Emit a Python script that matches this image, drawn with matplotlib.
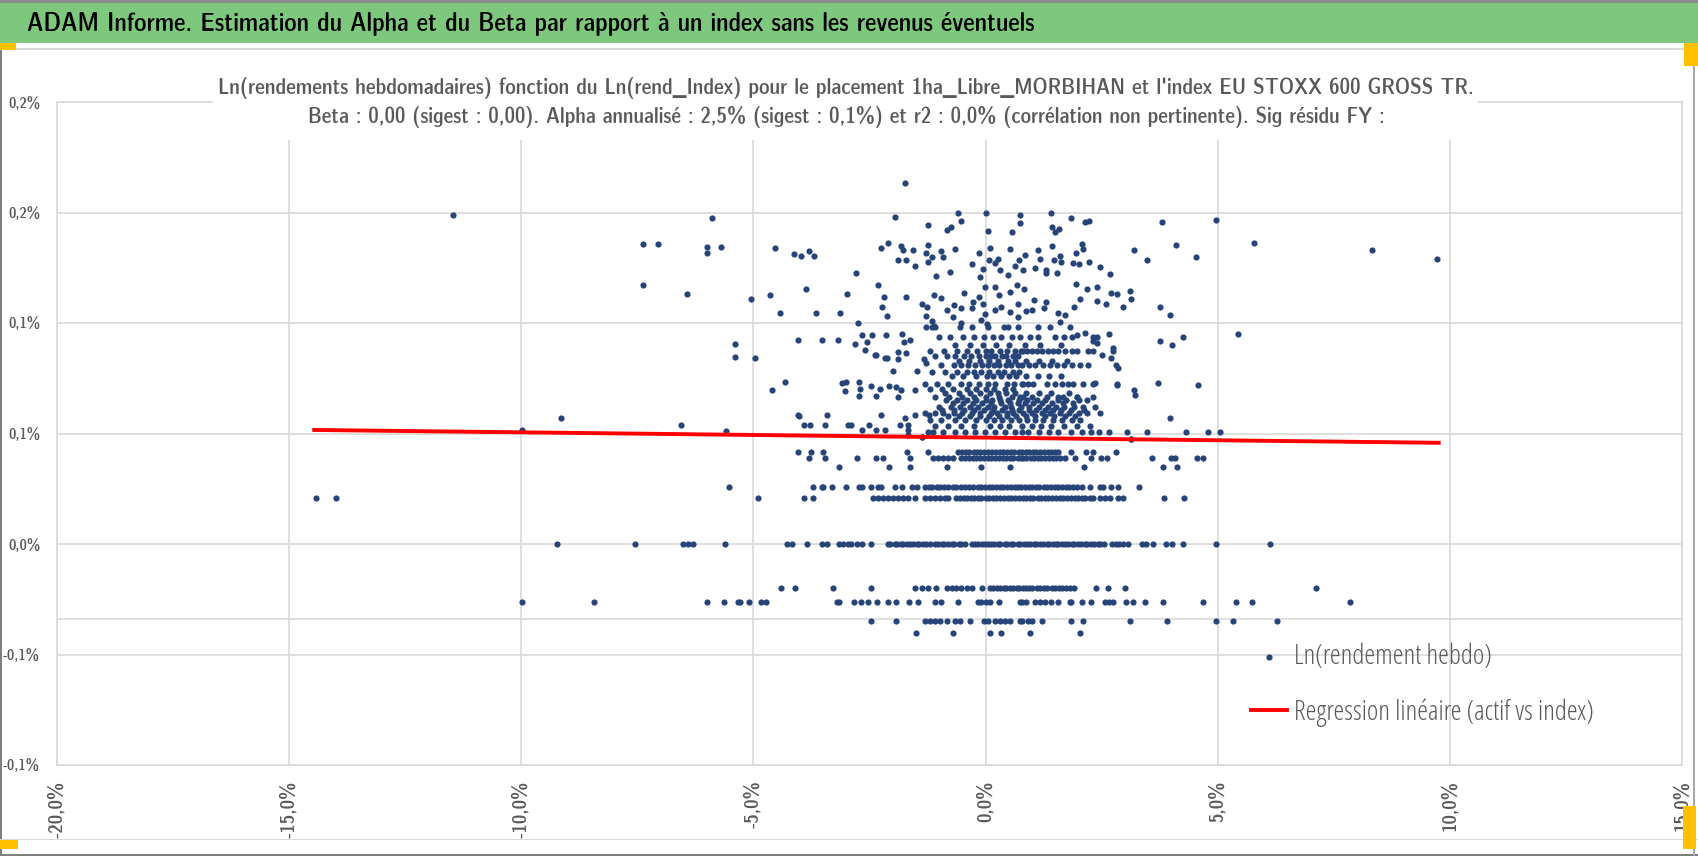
import numpy as np
import matplotlib
matplotlib.use('Agg')
import matplotlib.pyplot as plt
from matplotlib import font_manager
from matplotlib.font_manager import FontProperties
from matplotlib.patches import Rectangle

# textes
header = "ADAM Informe. Estimation du Alpha et du Beta par rapport à un index sans les revenus éventuels"
title_l1 = ("Ln(rendements hebdomadaires) fonction du Ln(rend_Index) pour le placement "
            "1ha_Libre_MORBIHAN et l'index EU STOXX 600 GROSS TR.")
title_l2 = ("Beta : 0,00 (sigest : 0,00). Alpha annualisé : 2,5% (sigest : 0,1%) et r2 : 0,0% "
            "(corrélation non pertinente). Sig résidu FY :")
label_pts = "Ln(rendement hebdo)"
label_reg = "Regression linéaire (actif vs index)"

x_ticks = [-20, -15, -10, -5, 0, 5, 10, 15]
x_tick_labels = ['-20,0%', '-15,0%', '-10,0%', '-5,0%', '0,0%', '5,0%', '10,0%', '15,0%']
y_ticks = [-0.10, -0.05, 0.0, 0.05, 0.10, 0.15, 0.20]
y_tick_labels = ['-0,1%', '-0,1%', '0,0%', '0,1%', '0,1%', '0,2%', '0,2%']
extra_line_y = -0.034

# droite de regression (x en %, y en %)
reg_x = [-14.46, 9.76]
reg_y = [0.0516, 0.0458]

# paliers (rendement de l'actif, en %) et rendements de l'index (en %)
lvl_000 = 0.0
band_000_x = [-9.23, -7.55, -6.52, -6.41, -6.30, -5.62, -4.27, -4.17, -3.84, -3.53, -3.41, -3.16,
              -3.07, -2.97, -2.89, -2.78, -2.67, -2.46, -2.11, -2.05, -1.96, -1.91, -1.82, -1.77,
              -1.69, -1.62, -1.57, -1.48, -1.43, -1.34, -1.28, -1.20, -1.09, -1.03, -0.94, -0.89,
              -0.80, -0.72, -0.67, -0.58, -0.52, -0.45, -0.30, -0.22, -0.17, -0.08, -0.02, 0.06,
              0.11, 0.19, 0.27, 0.32, 0.41, 0.46, 0.55, 0.60, 0.69, 0.75, 0.82, 0.90, 0.95, 1.04,
              1.09, 1.18, 1.23, 1.32, 1.37, 1.46, 1.51, 1.57, 1.64, 1.72, 1.77, 1.86, 1.91, 2.00,
              2.05, 2.14, 2.19, 2.28, 2.33, 2.42, 2.47, 2.54, 2.72, 2.80, 2.88, 2.96, 3.07, 3.36,
              3.45, 3.61, 3.88, 4.02, 4.26, 4.96, 6.13]

lvl_m020 = -0.0198
band_m020_x = [-4.41, -4.11, -3.28, -2.47, -1.52, -1.36, -1.24, -1.06, -0.84, -0.73, -0.63, -0.52,
               -0.41, -0.30, -0.07, 0.09, 0.17, 0.25, 0.31, 0.39, 0.45, 0.53, 0.59, 0.67, 0.73,
               0.80, 0.87, 0.94, 1.01, 1.10, 1.17, 1.26, 1.33, 1.42, 1.49, 1.58, 1.65, 1.74, 1.81,
               1.90, 2.37, 2.63, 3.00, 7.11]

lvl_m026 = -0.0261
band_m026_x = [-9.98, -8.44, -6.01, -5.63, -5.34, -5.29, -5.09, -4.83, -4.72, -3.21, -3.16, -2.83,
               -2.69, -2.54, -2.33, -2.10, -1.92, -1.65, -1.45, -1.09, -0.95, -0.59, -0.17, -0.09,
               0.0, 0.09, 0.29, 0.74, 0.78, 0.88, 1.06, 1.17, 1.28, 1.41, 1.57, 1.82, 1.85, 2.08,
               2.28, 2.57, 2.66, 2.75, 3.02, 3.17, 3.43, 3.83, 4.68, 5.39, 5.73, 7.84]

lvl_m035 = -0.0348
band_m035_x = [-2.46, -1.92, -1.31, -1.20, -1.09, -0.98, -0.84, -0.66, -0.55, -0.34, -0.03, 0.06,
               0.20, 0.31, 0.42, 0.52, 0.74, 0.78, 0.92, 0.99, 1.21, 1.85, 2.10, 3.10, 3.90, 4.96,
               5.32, 6.28]

lvl_m040 = -0.0401
band_m040_x = [-1.49, -0.71, 0.09, 0.33, 0.96, 2.03]

lvl_021 = 0.0207
band_021_x = [-14.43, -13.98, -4.91, -3.91, -3.71, -2.42, -2.31, -2.21, -2.10, -1.99, -1.88, -1.77,
              -1.67, -1.52, -1.31, -1.20, -1.09, -0.98, -0.88, -0.80, -0.63, -0.56, -0.47, -0.41,
              -0.32, -0.25, -0.16, -0.09, 0.01, 0.07, 0.16, 0.23, 0.32, 0.39, 0.48, 0.55, 0.64,
              0.71, 0.80, 0.87, 0.96, 1.03, 1.12, 1.19, 1.28, 1.35, 1.44, 1.51, 1.60, 1.67, 1.76,
              1.83, 1.92, 1.99, 2.08, 2.15, 2.24, 2.32, 2.46, 2.57, 2.68, 2.86, 2.95, 3.85, 4.28]

lvl_026 = 0.0257
band_026_x = [-5.52, -3.71, -3.53, -3.50, -3.30, -3.00, -2.73, -2.67, -2.46, -2.31, -2.26, -1.95,
              -1.81, -1.58, -1.47, -1.31, -1.22, -1.15, -1.05, -0.98, -0.90, -0.80, -0.71, -0.63,
              -0.52, -0.45, -0.36, -0.28, -0.17, -0.10, -0.02, 0.07, 0.14, 0.22, 0.31, 0.38, 0.47,
              0.55, 0.63, 0.70, 0.77, 0.85, 0.93, 1.00, 1.09, 1.16, 1.25, 1.33, 1.40, 1.49, 1.56,
              1.64, 1.73, 1.80, 1.88, 1.97, 2.07, 2.25, 2.46, 2.53, 2.70, 2.86, 3.31]

lvl_035 = 0.0350
band_035_x = [-3.16, -2.08, -1.63, -0.84, -0.09, 0.52, 2.13, 3.83, 4.13]

lvl_039 = 0.0388
band_039_x = [-3.80, -3.46, -2.76, -2.35, -2.22, -1.63, -1.13, -1.02, -0.91, -0.80, -0.70, -0.52,
              -0.45, -0.36, -0.27, -0.20, -0.11, -0.04, 0.05, 0.12, 0.21, 0.28, 0.37, 0.44, 0.53,
              0.60, 0.69, 0.76, 0.81, 0.88, 0.97, 1.04, 1.13, 1.20, 1.29, 1.36, 1.45, 1.52, 1.60,
              1.71, 1.93, 2.28, 2.49, 2.61, 3.58, 4.00, 4.08, 4.56, 4.68]

lvl_042 = 0.0418
band_042_x = [-4.04, -3.76, -3.50, -1.69, -1.24, -0.59, -0.50, -0.43, -0.35, -0.26, -0.18, -0.11,
              -0.03, 0.06, 0.13, 0.22, 0.30, 0.37, 0.46, 0.54, 0.62, 0.71, 0.78, 0.86, 0.93, 1.02,
              1.09, 1.18, 1.25, 1.34, 1.41, 1.49, 1.56, 1.84, 2.16, 2.32, 2.80]

# coeur dense au-dessus de la droite
lvl_051 = 0.0508
band_051_x = [-1.24, -1.13, -0.91, -0.66, -0.45, -0.23, -0.01, 0.20, 0.42, 0.63, 0.78, 0.92, 1.15,
              1.36, 1.57, 1.84, 2.07, 2.27, 2.44, 2.66, 3.05, 3.48, 4.32, 4.80, 5.05]
lvl_054 = 0.0535
band_054_x = [-1.10, -0.81, -0.54, -0.26, 0.09, 0.31, 0.50, 0.79, 1.01, 1.19, 1.41, 1.69, 1.96, 2.24]
lvl_056 = 0.0562
band_056_x = [-1.20, -0.95, -0.66, -0.44, -0.21, 0.01, 0.19, 0.36, 0.54, 0.71, 0.89, 1.06, 1.24,
              1.46, 1.64, 1.86, 2.04]
lvl_058 = 0.0577
band_058_x = [-0.82, -0.58, -0.33, -0.12, 0.08, 0.29, 0.47, 0.66, 0.88, 1.07, 1.28, 1.47, 1.72, 1.93]
lvl_059 = 0.0592
band_059_x = [-1.30, -1.09, -0.91, -0.69, -0.51, -0.29, -0.11, 0.11, 0.24, 0.46, 0.59, 0.81, 0.99,
              1.21, 1.39, 1.61, 1.79, 2.01, 2.19, 2.46]
lvl_061 = 0.0607
band_061_x = [-0.93, -0.68, -0.47, -0.25, -0.04, 0.15, 0.36, 0.57, 0.72, 0.93, 1.08, 1.27, 1.45,
              1.62, 1.83, 2.12]
lvl_062 = 0.0620
band_062_x = [-1.00, -0.74, -0.56, -0.34, -0.16, 0.06, 0.19, 0.41, 0.54, 0.76, 0.94, 1.16, 1.34,
              1.51, 1.69, 1.91, 2.09, 2.36]
lvl_064 = 0.0636
band_064_x = [-0.71, -0.49, -0.28, -0.07, 0.12, 0.33, 0.52, 0.69, 0.84, 1.03, 1.22, 1.43, 1.66, 1.88]
lvl_065 = 0.0650
band_065_x = [-0.85, -0.61, -0.39, -0.21, 0.01, 0.14, 0.31, 0.49, 0.71, 0.89, 1.11, 1.29, 1.56,
              1.74, 2.01, 2.19]
lvl_066 = 0.0664
band_066_x = [-1.10, -0.79, -0.51, -0.24, 0.01, 0.29, 0.56, 0.74, 0.81, 0.99, 1.32, 1.57, 1.67,
              1.96, 2.32]
lvl_069 = 0.0685
band_069_x = [-0.87, -0.58, -0.33, -0.12, 0.09, 0.27, 0.45, 0.64, 0.88, 1.14, 1.41, 1.79]
lvl_070 = 0.0700
band_070_x = [-1.20, -0.94, -0.71, -0.39, -0.21, 0.01, 0.19, 0.41, 0.59]
lvl_073 = 0.0725
band_073_x = [-1.30, -1.04, -0.81, -0.54, -0.36, -0.14, 0.06, 0.21, 0.46, 0.61, 0.78, 0.80, 0.92,
              1.03, 1.32, 1.49, 1.64, 1.78, 1.89, 2.10, 2.32, 2.84]
lvl_076 = 0.0760
band_076_x = [-0.72, -0.48, -0.21, 0.02, 0.17, 0.33, 0.51, 0.66, 0.87, 1.13, 1.36, 1.62]
lvl_078 = 0.0780
band_078_x = [-1.15, -0.87, -0.61, -0.41, -0.26, -0.09, 0.08, 0.26, 0.39, 0.58, 0.72]
lvl_081 = 0.0812
band_081_x = [-0.95, -0.69, -0.53, -0.37, -0.23, -0.07, 0.05, 0.19, 0.29, 0.43, 0.54, 0.69, 0.79,
              0.93, 1.07, 1.24, 1.39, 1.53, 1.68, 1.86, 2.03, 2.21, 2.81]
lvl_083 = 0.0830
band_083_x = [-0.57, -0.36, -0.12, 0.07, 0.26, 0.48, 0.63, 0.86, 1.15, 1.43, 1.76]
lvl_085 = 0.0850
band_085_x = [-1.10, -0.84, -0.66, -0.47, -0.31, -0.14, 0.01, 0.11, 0.21, 0.36, 0.44, 0.59, 0.70]
lvl_088 = 0.0875
band_088_x = [-1.20, -0.89, -0.62, -0.41, -0.19, 0.01, 0.12, 0.31, 0.47, 0.63, 0.76, 0.81, 0.90,
              1.01, 1.10, 1.21, 1.35, 1.46, 1.57, 1.71, 1.86, 1.96, 2.21, 2.31, 2.74]
lvl_090 = 0.0900
band_090_x = [-0.66, -0.34, -0.06, 0.23, 0.51, 0.84, 1.18, 1.62]
lvl_093 = 0.0935
band_093_x = [-1.00, -0.76, -0.49, -0.26, -0.04, 0.16, 0.34, 0.56, 0.75, 0.96, 1.12, 1.50, 1.68,
              1.86, 2.32, 2.41]
lvl_098 = 0.0983
band_098_x = [-1.29, -1.16, -1.08, -0.55, -0.30, 0.05, 0.40, 0.70, 1.12, 1.39, 1.82]

# points isoles (x index %, y actif %)
cloud_x = [-11.47, -9.98, -9.14, -7.37, -7.06, -7.37, -6.57, -6.43, -6.01, -5.99, -5.70, -5.89,
           -5.60, -5.40, -5.40, -5.06, -4.97, -4.65, -4.61, -4.53, -4.43, -4.31, -4.12, -4.04,
           -4.04, -4.02, -3.97, -3.91, -3.86, -3.81, -3.79, -3.70, -3.65, -3.53, -3.45, -3.41,
           -3.18, -3.13, -3.10, -3.03, -3.00, -2.99, -2.96, -2.90, -2.82, -2.80, -2.74, -2.73,
           -2.71, -2.73, -2.67, -2.66, -2.59, -2.56, -2.51, -2.47, -2.44, -2.39, -2.37, -2.36,
           -2.35, -2.31, -2.28, -2.26, -2.26, -2.24, -2.19, -2.17, -2.16, -2.14, -2.13, -2.13,
           -2.10, -2.08, -1.99, -1.95, -1.93, -1.88, -1.88, -1.88, -1.88, -1.85, -1.82, -1.82,
           -1.79, -1.77, -1.75, -1.74, -1.74, -1.72, -1.72, -1.72, -1.68, -1.67, -1.67, -1.62,
           -1.56, -1.52, -1.52, -1.51, -1.47, -1.38, -1.36, -1.33, -1.29, -1.29, -1.29, -1.26,
           -1.25, -1.25, -1.24, -1.22, -1.16, -1.15, -1.12, -1.11, -1.06, -0.97, -0.96, -0.91,
           -0.84, -0.84, -0.77, -0.75, -0.70, -0.68, -0.66, -0.59, -0.52, -0.52, -0.52, -0.46,
           -0.30, -0.30, -0.27, -0.14, -0.14, -0.12, -0.09, -0.06, -0.06, -0.01, -0.01, 0.0,
           0.03, 0.06, 0.08, 0.10, 0.20, 0.20, 0.20, 0.26, 0.29, 0.31, 0.34, 0.49, 0.49, 0.52,
           0.52, 0.52, 0.57, 0.63, 0.67, 0.70, 0.70, 0.73, 0.74, 0.74, 0.81, 0.83, 0.85, 0.86,
           0.99, 1.04, 1.06, 1.12, 1.17, 1.26, 1.30, 1.30, 1.30, 1.40, 1.44, 1.44, 1.47, 1.50,
           1.54, 1.57, 1.59, 1.60, 1.60, 1.62, 1.70, 1.85, 1.89, 1.91, 1.94, 1.95, 1.96, 1.96,
           2.01, 2.03, 2.08, 2.10, 2.14, 2.14, 2.18, 2.23, 2.23, 2.32, 2.36, 2.39, 2.41, 2.41,
           2.46, 2.50, 2.59, 2.66, 2.69, 2.70, 2.70, 2.74, 2.84, 2.84, 2.86, 2.95, 3.12, 3.13,
           3.13, 3.20, 3.20, 3.22, 3.48, 3.71, 3.76, 3.76, 3.81, 3.97, 3.97, 4.02, 4.11, 4.26,
           4.53, 4.58, 4.96, 5.43, 5.79, 8.32, 9.72, -1.36, 3.13]
cloud_y = [0.1490, 0.0516, 0.0570, 0.1357, 0.1357, 0.1170, 0.0538, 0.1130, 0.1315, 0.1345, 0.1345, 0.1474,
           0.0513, 0.0905, 0.0848, 0.1107, 0.0840, 0.1125, 0.0697, 0.1341, 0.1044, 0.0735, 0.1311, 0.0584,
           0.0923, 0.0581, 0.1303, 0.0538, 0.1152, 0.1326, 0.0538, 0.1303, 0.1044, 0.0923, 0.0538, 0.0584,
           0.0923, 0.1044, 0.0730, 0.0692, 0.0735, 0.1133, 0.0538, 0.0538, 0.0905, 0.1228, 0.0998, 0.0735,
           0.0700, 0.0670, 0.0946, 0.0516, 0.0878, 0.0913, 0.0538, 0.0715, 0.0946, 0.0855, 0.0516, 0.0855,
           0.0670, 0.1172, 0.0701, 0.0584, 0.1340, 0.1074, 0.1119, 0.0840, 0.0516, 0.0946, 0.1032, 0.0842,
           0.1364, 0.0715, 0.0784, 0.1481, 0.0712, 0.1285, 0.0867, 0.0836, 0.0667, 0.0538, 0.1348, 0.0697,
           0.0950, 0.1330, 0.0916, 0.1632, 0.0569, 0.1285, 0.1119, 0.0863, 0.0516, 0.0538, 0.0493, 0.0923,
           0.1330, 0.0584, 0.0697, 0.1258, 0.0784, 0.1086, 0.0486, 0.0836, 0.1315, 0.1032, 0.0817, 0.1074,
           0.1443, 0.1353, 0.1278, 0.0584, 0.1009, 0.1297, 0.0986, 0.1127, 0.1214, 0.1326, 0.1115, 0.1300,
           0.1420, 0.1059, 0.1232, 0.1436, 0.1029, 0.1081, 0.1335, 0.1496, 0.1462, 0.1066, 0.0998, 0.1137,
           0.1265, 0.1069, 0.1097, 0.1315, 0.1116, 0.1210, 0.1014, 0.1244, 0.1086, 0.1039, 0.1164, 0.1499,
           0.0995, 0.1418, 0.1285, 0.1341, 0.1270, 0.1059, 0.1164, 0.1290, 0.1127, 0.1240, 0.1074, 0.1217,
           0.0983, 0.1335, 0.1051, 0.1142, 0.1413, 0.1258, 0.1172, 0.1029, 0.1086, 0.1285, 0.1489, 0.1451,
           0.1240, 0.1152, 0.1308, 0.1054, 0.1059, 0.1104, 0.1250, 0.1330, 0.1290, 0.1066, 0.1240, 0.1225,
           0.1097, 0.1500, 0.1436, 0.1348, 0.1285, 0.1413, 0.1228, 0.1044, 0.1424, 0.1305, 0.1006, 0.1278,
           0.1038, 0.1474, 0.1270, 0.1071, 0.1315, 0.1176, 0.0946, 0.0664, 0.1266, 0.1107, 0.1356, 0.1333,
           0.1456, 0.0953, 0.1152, 0.1463, 0.1278, 0.0919, 0.0727, 0.1164, 0.1100, 0.0911, 0.1255, 0.0855,
           0.1086, 0.0949, 0.1220, 0.1134, 0.0840, 0.0885, 0.1131, 0.0719, 0.0795, 0.1074, 0.1146, 0.1109,
           0.0474, 0.1330, 0.0697, 0.0674, 0.1285, 0.0727, 0.1074, 0.0919, 0.1456, 0.1038, 0.0572, 0.0900,
           0.1353, 0.0938, 0.1297, 0.0719, 0.1466, 0.0949, 0.1360, 0.1330, 0.1290, 0.0486, 0.0474]

bands = [(lvl_000, band_000_x), (lvl_m020, band_m020_x), (lvl_m026, band_m026_x),
         (lvl_m035, band_m035_x), (lvl_m040, band_m040_x), (lvl_021, band_021_x),
         (lvl_026, band_026_x), (lvl_035, band_035_x), (lvl_039, band_039_x),
         (lvl_042, band_042_x), (lvl_051, band_051_x), (lvl_054, band_054_x),
         (lvl_056, band_056_x), (lvl_058, band_058_x), (lvl_059, band_059_x),
         (lvl_061, band_061_x), (lvl_062, band_062_x), (lvl_064, band_064_x),
         (lvl_065, band_065_x), (lvl_066, band_066_x), (lvl_069, band_069_x),
         (lvl_070, band_070_x), (lvl_073, band_073_x), (lvl_076, band_076_x),
         (lvl_078, band_078_x), (lvl_081, band_081_x), (lvl_083, band_083_x),
         (lvl_085, band_085_x), (lvl_088, band_088_x), (lvl_090, band_090_x),
         (lvl_093, band_093_x), (lvl_098, band_098_x)]

xs = list(cloud_x)
ys = list(cloud_y)
for lvl, bx in bands:
    xs += bx
    ys += [lvl] * len(bx)

# polices : une famille etroite si on en trouve une, sinon Liberation Sans
def pick_font(bold):
    found = None
    for f in font_manager.fontManager.ttflist:
        nm = f.name.lower()
        narrowish = ('narrow' in nm or 'condensed' in nm or f.stretch == 'condensed'
                     or 'condensed' in f.fname.lower() or 'narrow' in f.fname.lower())
        if not narrowish or f.style != 'normal':
            continue
        w = f.weight if isinstance(f.weight, int) else (700 if 'bold' in str(f.weight) else 400)
        if (w >= 600) == bold:
            if found is None or 'sans' in nm:
                found = f
    if found is not None:
        return FontProperties(fname=found.fname)
    return FontProperties(family='Liberation Sans', weight='bold' if bold else 'normal')

fp_bold = pick_font(True)
fp_reg = pick_font(False)

W, H = 1698, 856
navy = '#264478'
grey_txt = '#595959'
grid_c = '#D9D9D9'

fig = plt.figure(figsize=(W / 100, H / 100), dpi=100)
fig.patch.set_facecolor('white')
renderer = fig.canvas.get_renderer()


def fx(px):
    return px / W


def fy(py):
    return 1 - py / H


def fit_size(s, fp, target_px, rotation=0):
    # taille de police qui donne la largeur
    t = fig.text(0, 0, s, fontproperties=fp, fontsize=20, rotation=rotation)
    bb = t.get_window_extent(renderer)
    t.remove()
    size = bb.height if rotation else bb.width
    return 20 * target_px / size


# bandeau vert
fig.patches.append(Rectangle((0, fy(43)), 1, 40 / H, transform=fig.transFigure,
                             facecolor='#7EC87E', edgecolor='none', zorder=1))
fig.patches.append(Rectangle((0, fy(3)), 1, 3 / H, transform=fig.transFigure,
                             facecolor='#8C8C8C', edgecolor='none', zorder=1))
fig.patches.append(Rectangle((0, fy(50)), 1, 2 / H, transform=fig.transFigure,
                             facecolor='#D9D9D9', edgecolor='none', zorder=1))
fig.text(fx(27), fy(24), header, fontproperties=fp_bold,
         fontsize=fit_size(header, fp_bold, 1007), color='black', va='center', ha='left')

# bordures et poignees
fig.patches.append(Rectangle((0, 0), 2 / W, fy(43), transform=fig.transFigure,
                             facecolor='#7F7F7F', edgecolor='none', zorder=1))
fig.patches.append(Rectangle((0, 0), 1, 2 / H, transform=fig.transFigure,
                             facecolor='#7F7F7F', edgecolor='none', zorder=1))
fig.patches.append(Rectangle((fx(1693), 0), 2 / W, fy(43), transform=fig.transFigure,
                             facecolor='#A6A6A6', edgecolor='none', zorder=1))
fig.patches.append(Rectangle((0, fy(840)), 1, 1.5 / H, transform=fig.transFigure,
                             facecolor='#D9D9D9', edgecolor='none', zorder=1))
for (x0, y0, w, h) in [(0, 43, 16, 7), (1684, 43, 14, 23), (0, 840, 18, 9), (1683, 806, 13, 43)]:
    fig.patches.append(Rectangle((fx(x0), fy(y0 + h)), w / W, h / H, transform=fig.transFigure,
                                 facecolor='#FFC000', edgecolor='none', zorder=2))

# zone de trace
ytick_size = fit_size('0,2%', fp_bold, 32)
xtick_size = fit_size('-20,0%', fp_bold, 57, rotation=90)
leg_size = fit_size(label_pts, fp_reg, 198)

ax = fig.add_axes([fx(57), fy(765), (1682 - 57) / W, (765 - 102) / H])
ax.set_xlim(x_ticks[0], x_ticks[-1])
ax.set_ylim(y_ticks[0], y_ticks[-1])
ax.set_xticks(x_ticks)
ax.set_xticklabels(x_tick_labels, rotation=90, fontproperties=fp_bold, fontsize=xtick_size,
                   color=grey_txt)
ax.set_yticks(y_ticks)
ax.set_yticklabels(y_tick_labels, fontproperties=fp_bold, fontsize=ytick_size, color=grey_txt)
ax.tick_params(length=0)
ax.tick_params(axis='x', pad=11)
ax.tick_params(axis='y', pad=12)
ax.grid(True, color=grid_c, lw=1.2, zorder=0)
ax.set_axisbelow(True)
for s in ax.spines.values():
    s.set_color(grid_c)
    s.set_linewidth(1.2)
ax.axhline(extra_line_y, color=grid_c, lw=1.2, zorder=0.5)

pts = ax.scatter(xs, ys, s=20, color=navy, linewidths=0, zorder=2, label=label_pts)
reg, = ax.plot(reg_x, reg_y, color='#FF0000', lw=2.8, zorder=3, label=label_reg)

leg_fp = fp_reg.copy()
leg_fp.set_size(leg_size)
leg = ax.legend(handles=[pts, reg], loc='upper left', bbox_to_anchor=(fx(1251), fy(643)),
                bbox_transform=fig.transFigure, frameon=False, prop=leg_fp,
                handlelength=1.3, handletextpad=0.25, labelspacing=1.0,
                scatterpoints=1, borderpad=0, borderaxespad=0)
for t in leg.get_texts():
    t.set_color(grey_txt)

# titre du graphique sur fond blanc
fig.patches.append(Rectangle((fx(213), fy(140)), (1478 - 213) / W, (140 - 64) / H,
                             transform=fig.transFigure, facecolor='white',
                             edgecolor='none', zorder=1))
fig.text(fx(846), fy(88), title_l1, ha='center', va='center', fontproperties=fp_bold,
         fontsize=fit_size(title_l1, fp_bold, 1255), color=grey_txt, zorder=3)
fig.text(fx(846), fy(117), title_l2, ha='center', va='center', fontproperties=fp_bold,
         fontsize=fit_size(title_l2, fp_bold, 1077), color=grey_txt, zorder=3)

fig.savefig('out.png', dpi=100, facecolor='white')
